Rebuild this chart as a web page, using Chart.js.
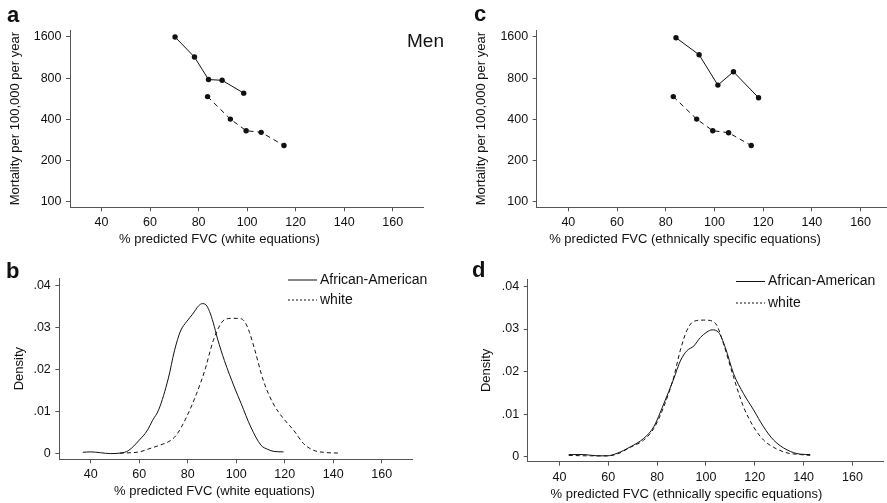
<!DOCTYPE html>
<html>
<head>
<meta charset="utf-8">
<script src="https://cdn.jsdelivr.net/npm/chart.js@4.4.1/dist/chart.umd.min.js"></script>
<style>
  html, body { margin: 0; padding: 0; background: #fff; overflow: hidden; width: 887px; height: 503px; }
  canvas { position: absolute; }
</style>
</head>
<body>
<canvas id="panelA" width="445" height="250" style="left:0;top:0"></canvas>
<canvas id="panelB" width="445" height="253" style="left:0;top:250px"></canvas>
<canvas id="panelC" width="445" height="250" style="left:466px;top:0"></canvas>
<canvas id="panelD" width="445" height="253" style="left:466px;top:250px"></canvas>
<script>
// tick labels
var fvcTicks = [40, 60, 80, 100, 120, 140, 160];
var mortTicks = [100, 200, 400, 800, 1600];
var densTicks = [0, 0.01, 0.02, 0.03, 0.04];
var seriesNames = ['African-American', 'white'];

// a: mortality by % predicted FVC, white equations
var aAfrAmX = [70.3, 78.3, 84.1, 89.7, 98.6];
var aAfrAmY = [1600, 1140, 780, 770, 620];
var aWhiteX = [83.7, 93.1, 99.6, 105.8, 115.2];
var aWhiteY = [585, 400, 329, 320, 256];

// c: mortality, ethnically specific equations
var cAfrAmX = [84.2, 93.7, 101.4, 107.8, 118.1];
var cAfrAmY = [1580, 1185, 710, 890, 574];
var cWhiteX = [83.1, 92.7, 99.3, 105.8, 115.1];
var cWhiteY = [585, 400, 329, 318, 256];

// b: density, white equations
var bAfrAmX = [36.7, 40, 44, 48, 52, 55.5, 60, 63.2, 65.5, 68, 72, 74.5, 77, 79.5, 82, 84.5, 86, 87.5, 89, 90.5, 92.3, 95.1, 99.2, 102, 106, 110.2, 113, 115.6, 119.5];
var bAfrAmY = [0.0004, 0.0005, 0.0003, 0.0001, 0.0002, 0.0008, 0.0033, 0.0055, 0.008, 0.0105, 0.018, 0.0245, 0.0292, 0.0314, 0.0332, 0.0352, 0.0357, 0.0354, 0.0338, 0.0312, 0.0273, 0.0222, 0.0159, 0.012, 0.0064, 0.0021, 0.0011, 0.0006, 0.0005];
var bWhiteX = [52, 60, 64.4, 68.5, 72.6, 75.3, 79.5, 83.6, 87, 90.5, 93.3, 95.5, 98.8, 102, 103.8, 105.5, 107.5, 111.2, 115.3, 119.5, 123.6, 127.7, 131.8, 136, 142.8];
var bWhiteY = [0.0002, 0.0005, 0.0013, 0.0021, 0.0031, 0.0045, 0.0088, 0.0143, 0.0198, 0.0269, 0.0306, 0.0320, 0.0322, 0.0321, 0.0311, 0.0288, 0.0250, 0.0174, 0.0119, 0.0084, 0.0057, 0.0025, 0.0009, 0.0004, 0.0002];

// d: density, ethnically specific equations
var dAfrAmX = [43.8, 50, 55.4, 59.5, 63.6, 69, 74.5, 78.6, 82.7, 86.8, 89.5, 92.2, 95, 97.7, 100.4, 102.5, 105.2, 107.9, 111.3, 115.4, 119.5, 123.6, 127.7, 133.2, 138.6, 142.7];
var dAfrAmY = [0.0005, 0.0005, 0.0002, 0.0002, 0.0008, 0.0023, 0.0043, 0.007, 0.0124, 0.0183, 0.0225, 0.0249, 0.026, 0.028, 0.0293, 0.0298, 0.0292, 0.0257, 0.0195, 0.0148, 0.011, 0.007, 0.0039, 0.0016, 0.0006, 0.0005];
var dWhiteX = [43.8, 52.7, 59.5, 63.6, 69, 74.5, 78.6, 82.7, 86.8, 89.5, 92.2, 95, 99, 101.8, 104.5, 107.2, 111.3, 115.4, 119.5, 123.6, 127.7, 133.2, 138.6, 142.7];
var dWhiteY = [0.0003, 0.0002, 0.0002, 0.0006, 0.0022, 0.0039, 0.0066, 0.0117, 0.0187, 0.025, 0.0297, 0.0318, 0.0321, 0.032, 0.0308, 0.0265, 0.0187, 0.0117, 0.007, 0.0039, 0.0022, 0.0009, 0.0005, 0.0003];

var FONT = '"Liberation Sans", Arial, Helvetica, sans-serif';
var ink = '#111';
var axisInk = '#555';

function xy(xs, ys) {
    return xs.map(function (x, i) { return { x: x, y: ys[i] }; });
}

// draws x title, panel letter, extra label and legend
var notes = {
    id: 'notes',
    afterDraw: function (chart, args, o) {
        var ctx = chart.ctx, xs = chart.scales.x;
        ctx.save();
        ctx.fillStyle = ink;
        ctx.textAlign = 'center';
        ctx.textBaseline = 'middle';
        ctx.font = '13px ' + FONT;
        ctx.fillText(o.xtitle, xs.getPixelForValue(o.xtitleAt), xs.top + 32.5);

        ctx.textAlign = 'left';
        ctx.textBaseline = 'alphabetic';
        ctx.font = 'bold 22px ' + FONT;
        ctx.fillText(o.letter, o.letterX, o.letterY);

        if (o.label) {
            ctx.font = '19px ' + FONT;
            ctx.textAlign = 'right';
            ctx.fillText(o.label, o.labelX, o.labelY);
        }

        if (o.legend) {
            ctx.font = '14px ' + FONT;
            ctx.textBaseline = 'middle';
            ctx.textAlign = 'left';
            ctx.strokeStyle = ink;
            ctx.lineWidth = 1;
            chart.data.datasets.forEach(function (ds, i) {
                var y = o.legend.y + i * o.legend.gap;
                ctx.setLineDash(i === 0 ? [] : [2, 2]);
                ctx.beginPath();
                ctx.moveTo(o.legend.x, y);
                ctx.lineTo(o.legend.x + 29, y);
                ctx.stroke();
                ctx.fillText(ds.label, o.legend.x + 32, y);
            });
        }
        ctx.restore();
    }
};

function panel(id, p) {
    new Chart(document.getElementById(id), {
        type: 'line',
        data: { datasets: p.datasets },
        options: {
            responsive: false,
            animation: false,
            layout: { padding: { left: 0, top: p.top, right: p.right, bottom: 0 } },
            plugins: { legend: { display: false }, tooltip: { enabled: false }, notes: p.notes },
            scales: {
                x: {
                    type: 'linear', min: 27, max: 172.5,
                    afterBuildTicks: function (s) { s.ticks = fvcTicks.map(function (v) { return { value: v }; }); },
                    afterFit: function (s) { s.height = p.xh; },
                    grid: { drawOnChartArea: false, tickLength: 4, color: axisInk },
                    border: { color: axisInk },
                    ticks: { autoSkip: false, maxRotation: 0, padding: 4, color: ink, font: { family: FONT, size: 12.5 } }
                },
                y: {
                    type: p.log ? 'logarithmic' : 'linear', min: p.ymin, max: p.ymax,
                    afterBuildTicks: function (s) { s.ticks = p.yTicks.map(function (v) { return { value: v }; }); },
                    afterFit: function (s) { s.width = p.yw; },
                    grid: { drawOnChartArea: false, tickLength: 4, color: axisInk },
                    border: { color: axisInk },
                    ticks: {
                        autoSkip: false, padding: 4.5, color: ink, font: { family: FONT, size: 12.5 },
                        callback: p.fmt
                    },
                    title: { display: true, text: p.ytitle, color: ink, font: { family: FONT, size: 13 }, padding: { top: p.ytp, bottom: 0 } }
                }
            }
        },
        plugins: [notes]
    });
}

function mortSets(ax, ay, wx, wy) {
    return [
        { label: seriesNames[0], data: xy(ax, ay), borderColor: ink, borderWidth: 1, pointRadius: 2.7, pointBackgroundColor: ink, pointBorderWidth: 0, tension: 0 },
        { label: seriesNames[1], data: xy(wx, wy), borderColor: ink, borderWidth: 1, borderDash: [5, 4], pointRadius: 2.7, pointBackgroundColor: ink, pointBorderWidth: 0, tension: 0 }
    ];
}

function densSets(ax, ay, wx, wy) {
    return [
        { label: seriesNames[0], data: xy(ax, ay), borderColor: ink, borderWidth: 1, pointRadius: 0, cubicInterpolationMode: 'monotone' },
        { label: seriesNames[1], data: xy(wx, wy), borderColor: ink, borderWidth: 1, borderDash: [4, 3], pointRadius: 0, cubicInterpolationMode: 'monotone' }
    ];
}

var mortFmt = function (v) { return String(v); };
var densFmt = function (v) { return v === 0 ? '0' : v.toFixed(2).replace(/^0/, ''); };

panel('panelA', {
    datasets: mortSets(aAfrAmX, aAfrAmY, aWhiteX, aWhiteY),
    top: 30, right: 22, xh: 42.7, yw: 70, ytp: 7.2,
    log: true, ymin: 90.3, ymax: 1800, yTicks: mortTicks, fmt: mortFmt,
    ytitle: 'Mortality per 100,000 per year',
    notes: { xtitle: '% predicted FVC (white equations)', xtitleAt: 88.6, letter: 'a', letterX: 7, letterY: 22, label: 'Men', labelX: 444, labelY: 47 }
});

panel('panelB', {
    datasets: densSets(bAfrAmX, bAfrAmY, bWhiteX, bWhiteY),
    top: 28, right: 33, xh: 43.7, yw: 59.3, ytp: 11.2,
    log: false, ymin: -0.00126, ymax: 0.04178, yTicks: densTicks, fmt: densFmt,
    ytitle: 'Density',
    notes: { xtitle: '% predicted FVC (white equations)', xtitleAt: 91, letter: 'b', letterX: 6, letterY: 28, legend: { x: 288, y: 30, gap: 20 } }
});

panel('panelC', {
    datasets: mortSets(cAfrAmX, cAfrAmY, cWhiteX, cWhiteY),
    top: 30, right: 20, xh: 42.7, yw: 70.7, ytp: 7.2,
    log: true, ymin: 90.3, ymax: 1800, yTicks: mortTicks, fmt: mortFmt,
    ytitle: 'Mortality per 100,000 per year',
    notes: { xtitle: '% predicted FVC (ethnically specific equations)', xtitleAt: 87.9, letter: 'c', letterX: 8, letterY: 21 }
});

panel('panelD', {
    datasets: densSets(dAfrAmX, dAfrAmY, dWhiteX, dWhiteY),
    top: 29, right: 28, xh: 41.3, yw: 61.7, ytp: 12.2,
    log: false, ymin: -0.00118, ymax: 0.04176, yTicks: densTicks, fmt: densFmt,
    ytitle: 'Density',
    notes: { xtitle: '% predicted FVC (ethnically specific equations)', xtitleAt: 92, letter: 'd', letterX: 6, letterY: 27, legend: { x: 270, y: 31.5, gap: 21.5 } }
});
</script>
</body>
</html>
